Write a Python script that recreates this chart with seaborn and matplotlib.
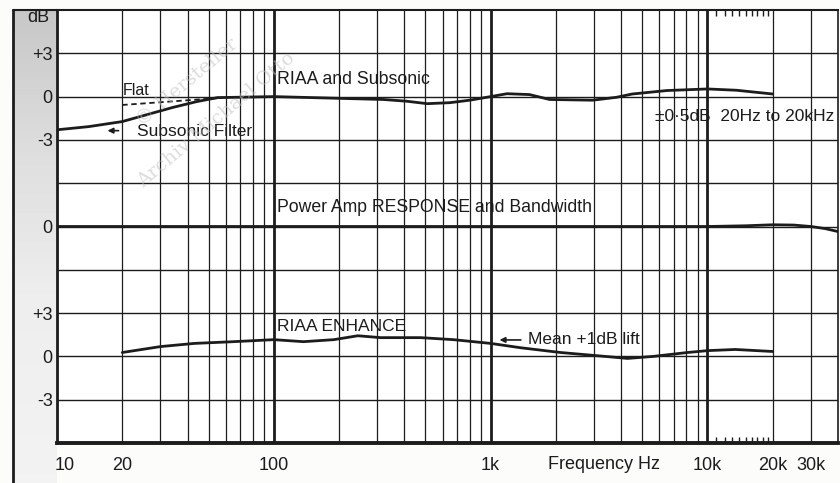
import matplotlib
matplotlib.use("Agg")
import matplotlib.pyplot as plt
import matplotlib.transforms as mtransforms
from matplotlib.lines import Line2D
import numpy as np
import seaborn as sns

sns.set_theme(style="white")
plt.rcParams["font.family"] = ["Liberation Sans", "DejaVu Sans"]

INK = "#1c1c1c"
W, H = 840, 483

# RIAA and Subsonic curve (dB about its own zero line)
riaa_freq = [10, 14, 20, 26, 34, 44, 55, 100, 200, 320, 410, 510, 650, 800,
             1000, 1190, 1510, 1870, 2950, 3800, 4500, 6500, 10000, 13600, 20000]
riaa_db = [-2.3, -2.08, -1.73, -1.25, -0.76, -0.35, -0.07, 0.0, -0.12, -0.2,
           -0.32, -0.49, -0.42, -0.25, 0.0, 0.2, 0.14, -0.2, -0.25, -0.05,
           0.18, 0.42, 0.53, 0.44, 0.18]

# "Flat" (no subsonic filter) branch
flat_freq = [20, 58]
flat_db = [-0.58, -0.08]

# Power amp response
power_freq = [10, 100, 1000, 10000, 15000, 20000, 25000, 30000, 35000, 40000]
power_db = [0, 0, 0, 0, 0.05, 0.12, 0.1, 0.0, -0.15, -0.35]

# RIAA enhance
enh_freq = [20, 30, 43, 65, 100, 137, 189, 244, 311, 475, 674, 1000, 1374,
            2100, 2985, 4280, 5630, 8090, 10000, 13450, 20000]
enh_db = [0.27, 0.68, 0.9, 1.02, 1.16, 1.02, 1.16, 1.43, 1.3, 1.3, 1.16, 0.9,
          0.6, 0.27, 0.07, -0.14, 0.0, 0.27, 0.4, 0.48, 0.34]

# zero line of each section on the shared 0..30 scale
ZERO_RIAA, ZERO_POWER, ZERO_ENH = 24, 15, 6

ytick_pos = [27, 24, 21, 15, 9, 6, 3]
ytick_lab = ["+3", "0", "-3", "0", "+3", "0", "-3"]
xtick_pos = [10, 20, 100, 1000, 10000, 20000, 30000]
xtick_lab = ["10", "20", "100", "1k", "10k", "20k", "30k"]
grid_freqs = [20, 30, 40, 50, 60, 70, 80, 90, 200, 300, 400, 500, 600, 700,
              800, 900, 2000, 3000, 4000, 5000, 6000, 7000, 8000, 9000,
              20000, 30000]
decades = [100, 1000, 10000]
minor_marks = [11000, 12000, 13000, 14000, 15000, 16000, 17000, 18000, 19000]

fig = plt.figure(figsize=(W / 100, H / 100), dpi=100)
fig.patch.set_facecolor("#fcfcfb")

# grey strip behind the dB labels (scan look)
strip = fig.add_axes([13 / W, 0, 44 / W, 1 - 10 / H])
shade = np.interp(np.arange(100), [0, 30, 60, 99], [0.78, 0.87, 0.93, 0.95])
strip.imshow(shade[:, None], cmap="gray", vmin=0, vmax=1, aspect="auto")
strip.axis("off")

ax = fig.add_axes([57 / W, 1 - 443 / H, (838 - 57) / W, (443 - 10) / H])
ax.set_facecolor("white")
ax.set_xscale("log")
ax.set_xlim(10, 40000)
ax.set_ylim(0, 30)

# grid
ax.hlines(np.arange(3, 30, 3), 10, 40000, color=INK, lw=1.0, zorder=1)
ax.vlines(grid_freqs, 0, 30, color=INK, lw=0.9, zorder=1)
ax.vlines(decades, 0, 30, color=INK, lw=2.0, zorder=1)

# curves
sns.lineplot(x=riaa_freq, y=np.array(riaa_db) + ZERO_RIAA, ax=ax,
             color=INK, lw=2.0, zorder=3)
sns.lineplot(x=flat_freq, y=np.array(flat_db) + ZERO_RIAA, ax=ax,
             color=INK, lw=1.3, linestyle=(0, (3, 2)), zorder=3)
sns.lineplot(x=power_freq, y=np.array(power_db) + ZERO_POWER, ax=ax,
             color=INK, lw=2.0, zorder=3)
sns.lineplot(x=enh_freq, y=np.array(enh_db) + ZERO_ENH, ax=ax,
             color=INK, lw=2.0, zorder=3)

# ticks
ax.set_xticks(xtick_pos, labels=xtick_lab)
ax.set_xticks(minor_marks, labels=[""] * len(minor_marks), minor=True)
ax.set_yticks(ytick_pos, labels=ytick_lab)
ax.tick_params(axis="both", which="major", length=0, labelsize=13,
               labelcolor=INK)
ax.tick_params(axis="x", which="major", pad=10)
ax.tick_params(axis="y", which="major", pad=3)
ax.tick_params(axis="x", which="minor", direction="in", length=4, width=1,
               top=True, bottom=True, color=INK)

# the "10" label sits a little right of the left edge in the print
first = ax.get_xticklabels()[0]
first.set_transform(first.get_transform() +
                    mtransforms.ScaledTranslation(8 / 100, 0, fig.dpi_scale_trans))

for side, lw in [("left", 2.0), ("bottom", 2.8), ("top", 1.5), ("right", 1.2)]:
    ax.spines[side].set_color(INK)
    ax.spines[side].set_linewidth(lw)

fs = 12.5
ax.text(103, 25.16, "RIAA and Subsonic", fontsize=fs + 0.3, color=INK, va="center")
ax.text(20, 24.4, "Flat", fontsize=fs - 1, color=INK, va="center")
ax.text(23.4, 21.55, "Subsonic Filter", fontsize=fs, color=INK, va="center")
ax.annotate("", xy=(16.6, 21.64), xytext=(19.8, 21.64),
            arrowprops=dict(arrowstyle="-|>", color=INK, lw=1.2,
                            mutation_scale=8))
ax.text(38500, 22.6, "±0·5dB  20Hz to 20kHz", fontsize=fs, color=INK,
        va="center", ha="right")
ax.text(103, 16.29, "Power Amp RESPONSE and Bandwidth", fontsize=fs + 0.2,
        color=INK, va="center")
ax.text(103, 8.1, "RIAA ENHANCE", fontsize=fs, color=INK, va="center")
ax.text(1480, 7.14, "Mean +1dB lift", fontsize=fs, color=INK, va="center")
ax.annotate("", xy=(1067, 7.14), xytext=(1420, 7.14),
            arrowprops=dict(arrowstyle="-|>", color=INK, lw=1.2,
                            mutation_scale=8))
ax.text(3350, -1.52, "Frequency Hz", fontsize=13, color=INK, va="center",
        ha="center", clip_on=False)

fig.text(38 / W, 1 - 18 / H, "dB", fontsize=13, color=INK, ha="center",
         va="center")

# outer frame of the printed chart
fig.add_artist(Line2D([13 / W, 13 / W], [0, 1 - 10 / H],
                      transform=fig.transFigure, color=INK, lw=2))
fig.add_artist(Line2D([13 / W, 57 / W], [1 - 10 / H, 1 - 10 / H],
                      transform=fig.transFigure, color=INK, lw=1.5))

# faint archive watermark
for txt, cx, cy in [("© Hersteller", 187, 83), ("Archiv Michael Otto", 216, 120)]:
    fig.text(cx / W, 1 - cy / H, txt, fontsize=14, color="#c0c0c0",
             alpha=0.55, rotation=40, ha="center", va="center",
             family="DejaVu Serif", rotation_mode="anchor", zorder=5)

fig.savefig("out.png", dpi=100)
